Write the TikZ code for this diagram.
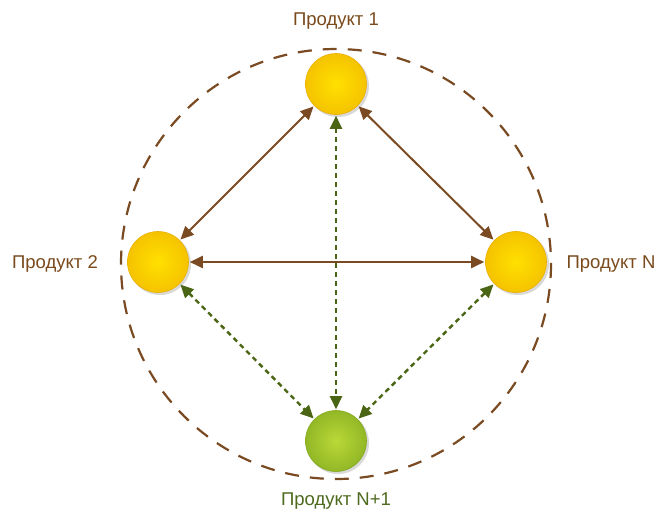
\documentclass[tikz,border=0pt]{standalone}
\usepackage{fontspec}
\setmainfont{Liberation Sans}
\usetikzlibrary{arrows.meta}
\definecolor{brownline}{HTML}{7A4A22}
\definecolor{greenline}{HTML}{4A6614}
\definecolor{labelbrown}{HTML}{7A4A1C}
\definecolor{labelgreen}{HTML}{4E6A1E}
\definecolor{yin}{HTML}{FFE000}
\definecolor{yout}{HTML}{F5C300}
\definecolor{yedge}{HTML}{EAB000}
\definecolor{gin}{HTML}{BAD838}
\definecolor{gout}{HTML}{92B826}
\definecolor{gedge}{HTML}{85A820}
\tikzset{
  ball/.style={circle, minimum size=61pt, inner sep=0pt, draw=yedge, line width=0.6pt,
     inner color=yin, outer color=yout},
  gball/.style={circle, minimum size=61pt, inner sep=0pt, draw=gedge, line width=0.6pt,
     inner color=gin, outer color=gout},
  shade/.style={circle, minimum size=62pt, inner sep=0pt, fill=black!15},
  lbl/.style={font=\fontsize{18.5pt}{21pt}\selectfont, text=labelbrown},
  solidarrow/.style={draw=brownline, line width=2pt,
     {Triangle[length=13pt,width=12pt]}-{Triangle[length=13pt,width=12pt]},
     shorten <=1pt, shorten >=1pt},
  dotarrow/.style={draw=greenline, line width=2.4pt, dash pattern=on 5pt off 4pt,
     {Triangle[length=13pt,width=12pt]}-{Triangle[length=13pt,width=12pt]},
     shorten <=1pt, shorten >=1pt},
  ring/.style={draw=brownline, line width=2.2pt, dash pattern=on 14pt off 11pt}
}
\begin{document}
\begin{tikzpicture}[x=1pt,y=-1pt]
\useasboundingbox (0,0) rectangle (663,515);
\fill[white] (0,0) rectangle (663,515);
\coordinate (c) at (336,264);
\draw[ring] (c) circle[radius=215];
% shadows
\node[shade] at (338,86) {};
\node[shade] at (160,264) {};
\node[shade] at (518,264) {};
\node[shade] at (338,443) {};
\node[ball] (p1) at (336,84) {};
\node[ball] (p2) at (158,262) {};
\node[ball] (pn) at (516,262) {};
\node[gball] (pn1) at (336,441) {};
\draw[solidarrow] (p1) -- (p2);
\draw[solidarrow] (p1) -- (pn);
\draw[solidarrow] (p2) -- (pn);
\draw[dotarrow] (p1) -- (pn1);
\draw[dotarrow] (p2) -- (pn1);
\draw[dotarrow] (pn) -- (pn1);
\node[lbl] (l1) at (336,21) {Продукт 1};
\node[lbl] (l2) at (55,264) {Продукт 2};
\node[lbl] (ln) at (611,264) {Продукт N};
\node[lbl, text=labelgreen] (ln1) at (336,501) {Продукт N+1};
\end{tikzpicture}
\end{document}
